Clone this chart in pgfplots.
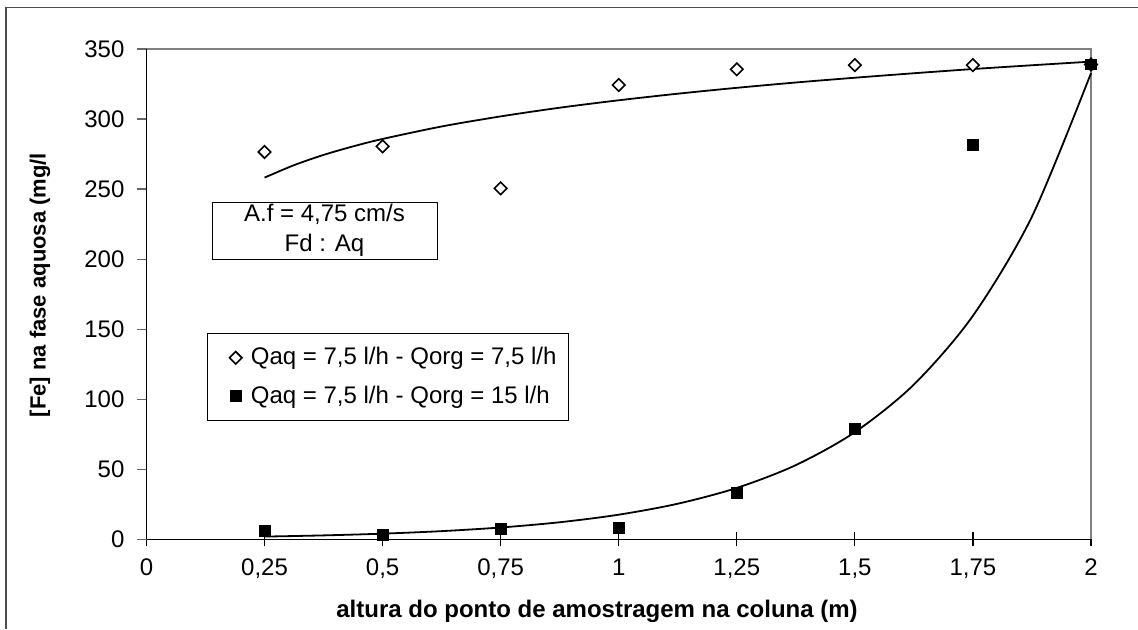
\documentclass[border=0pt]{standalone}
\usepackage{fontspec}
\setmainfont{Liberation Sans}
\usepackage{pgfplots}
\pgfplotsset{compat=1.18}
\newcommand\tw{\fontsize{12}{14}\selectfont}
\pgfplotsset{markonly legend/.style={legend image code/.code={\path[draw=none] (0,0) (0.553cm,0); \draw[##1] plot coordinates {(0.356cm,0cm)};}}}
\begin{document}
\begin{tikzpicture}
\useasboundingbox (0,0) rectangle (569pt,314.5pt);
\fill[white] (0,0) rectangle (569pt,314.5pt);
\draw[black!70, line width=0.7pt] (3pt,0) -- (3pt,310.75pt) -- (569pt,310.75pt);
\begin{axis}[
  at={(73.25pt,44.85pt)}, anchor=south west,
  scale only axis, width=472.25pt, height=245.15pt,
  xmin=0, xmax=2, ymin=0, ymax=350,
  xtick={0,0.25,0.5,0.75,1,1.25,1.5,1.75,2},
  ytick={0,50,100,150,200,250,300,350},
  axis x line*=bottom, axis y line*=left,
  x axis line style={-, black, line width=0.6pt},
  y axis line style={-, black, line width=0.6pt},
  xtick align=center, ytick align=outside,
  major tick length=4.5pt,
  xtick style={black, line width=0.6pt, /pgfplots/major tick length=7pt},
  ytick style={black!60, line width=0.6pt},
  /pgf/number format/use comma,
  /pgf/number format/assume math mode=true,
  ticklabel style={font=\tw},
  xticklabel style={yshift=-4pt},
  yticklabel style={xshift=-3pt},
  xlabel={altura do ponto de amostragem na coluna (m)},
  ylabel={[Fe] na fase aquosa (mg/l},
  xlabel style={font=\bfseries\tw, at={(axis description cs:0.477,-0.1477)}, anchor=center},
  ylabel style={font=\bfseries\fontsize{11}{13}\selectfont, at={(axis description cs:-0.1128,0.5187)}, anchor=center, rotate=0},
  clip=false,
  legend cell align=left,
  legend style={at={(axis cs:0.128,147.2)}, anchor=north west, draw=black, line width=0.5pt,
    font=\tw, row sep=5pt, inner xsep=4pt, inner ysep=5pt,
    /tikz/every even column/.append style={column sep=0pt}},
]
\draw[gray, line width=0.7pt] (rel axis cs:0,1) -- (rel axis cs:1,1) -- (rel axis cs:1,0);
% logarithmic trend line (series 1)
\addplot[forget plot, black, line width=0.9pt, smooth] coordinates {
 (0.25,258.2) (0.3125,267.1) (0.375,274.4) (0.4375,280.5) (0.5,285.8) (0.625,294.7) (0.75,301.9) (0.875,308.1)
 (1,313.4) (1.125,318.1) (1.25,322.3) (1.375,326.1) (1.5,329.5) (1.625,332.7)
 (1.75,335.7) (1.875,338.4) (2,341.0)};
% exponential trend line (series 2)
\addplot[forget plot, black, line width=0.9pt, smooth] coordinates {
 (0.25,1.94) (0.375,2.80) (0.5,4.04) (0.625,5.84) (0.75,8.44) (0.875,12.18)
 (1,17.59) (1.125,25.41) (1.25,36.69) (1.375,52.98) (1.5,76.51) (1.625,110.5)
 (1.75,159.6) (1.875,230.4) (2,332.8)};
\addplot[only marks, mark=square*, mark size=2.2pt,
  mark options={rotate=45, fill=white, draw=black, line width=0.8pt}, markonly legend]
  coordinates {(0.25,276.5) (0.5,280.5) (0.75,250.5) (1,324.3) (1.25,335.5) (1.5,338.5) (1.75,338.5) (2,339)};
\addlegendentry{Qaq = 7,5 l/h - Qorg = 7,5 l/h}
\addplot[only marks, mark=square*, mark size=2.7pt,
  mark options={fill=black, draw=black}, markonly legend]
  coordinates {(0.25,5.9) (0.5,3.2) (0.75,7.2) (1,8.3) (1.25,33.3) (1.5,78.7) (1.75,281.4) (2,339)};
\addlegendentry{Qaq = 7,5 l/h - Qorg = 15 l/h}
\node[draw=black, line width=0.5pt, fill=white, minimum width=112.5pt, minimum height=28.5pt,
  align=center, font=\fontsize{12}{15}\selectfont, inner sep=0pt]
  at (axis cs:0.377,220.4) {A.f = 4,75 cm/s\\Fd : Aq};
\end{axis}
\end{tikzpicture}
\end{document}
